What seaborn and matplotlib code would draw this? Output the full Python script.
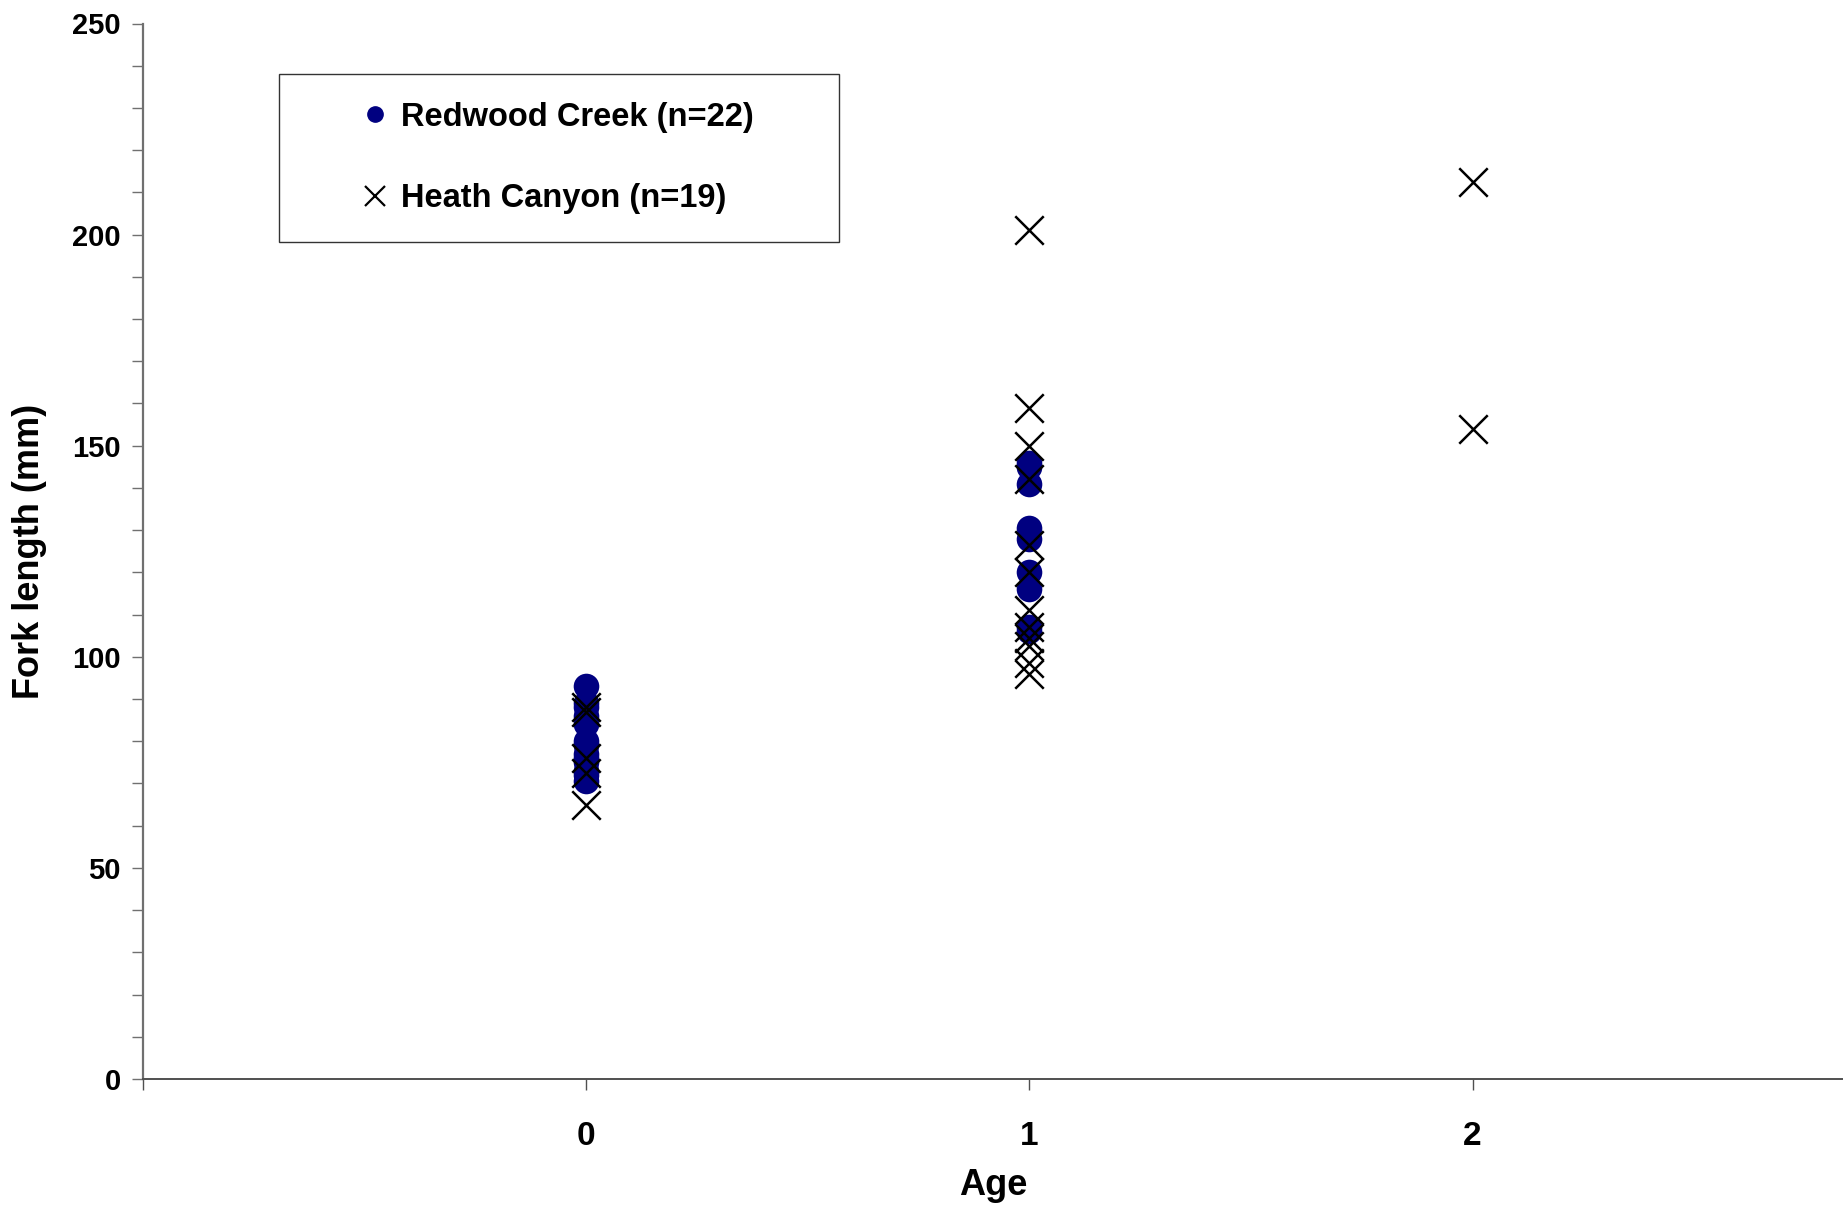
import matplotlib
matplotlib.use("Agg")
import matplotlib.pyplot as plt
from matplotlib.lines import Line2D
from matplotlib.patches import Rectangle
from matplotlib.ticker import MultipleLocator
import seaborn as sns
import pandas as pd

# Fork length (mm) by age class for each stream
redwood_age = [0] * 13 + [1] * 9
redwood_fl = [93, 89, 88, 86, 84, 80, 79, 77, 76, 75, 73, 72, 70.5,
              146, 145, 141, 130.5, 128, 120, 116, 107, 106]

heath_age = [0] * 5 + [1] * 12 + [2] * 2
heath_fl = [88, 87, 76, 72.5, 65,
            201, 159, 150, 142, 126.5, 120, 111, 107, 104.5, 102.5, 98.5, 96,
            212.5, 154]

site_labels = ["Redwood Creek (n=22)", "Heath Canyon (n=19)"]
age_ticks = [-1, 0, 1, 2]
age_tick_labels = ["", "0", "1", "2"]

sns.set_style("white")
plt.rcParams["font.family"] = ["Liberation Sans", "DejaVu Sans"]
plt.rcParams["text.color"] = "black"
plt.rcParams["axes.labelcolor"] = "black"
plt.rcParams["xtick.labelcolor"] = "black"
plt.rcParams["ytick.labelcolor"] = "black"

redwood = pd.DataFrame({"age": redwood_age, "fl": redwood_fl})
heath = pd.DataFrame({"age": heath_age, "fl": heath_fl})

fig = plt.figure(figsize=(18.43, 12.08), dpi=100)
ax = fig.add_axes([143 / 1843, 1 - 1079 / 1208, 1 - 143 / 1843, (1079 - 23.5) / 1208])

navy = "#000080"
sns.scatterplot(data=redwood, x="age", y="fl", ax=ax, marker="o", s=340,
                color=navy, edgecolor=navy, linewidth=0, legend=False, zorder=3)
sns.scatterplot(data=heath, x="age", y="fl", ax=ax, marker="x", s=420,
                color="black", linewidth=1.8, legend=False, zorder=4)

ax.set_xlim(-1, 2.836)
ax.set_ylim(0, 250)
ax.set_xticks(age_ticks)
ax.set_xticklabels(age_tick_labels)
ax.yaxis.set_major_locator(MultipleLocator(50))
ax.yaxis.set_minor_locator(MultipleLocator(10))

for side in ("top", "right"):
    ax.spines[side].set_visible(False)
ax.spines["left"].set_color("#707070")
ax.spines["left"].set_linewidth(1.6)
ax.spines["bottom"].set_color("#505050")
ax.spines["bottom"].set_linewidth(1.4)

ax.tick_params(axis="y", which="both", direction="out", length=8, width=1.0,
               color="#707070", left=True, pad=8)
ax.tick_params(axis="x", which="major", direction="out", length=8, width=1.0,
               color="#505050", bottom=True, pad=22)

for lab in ax.get_yticklabels():
    lab.set_fontsize(21)
    lab.set_fontweight("bold")
for lab in ax.get_xticklabels():
    lab.set_fontsize(24)
    lab.set_fontweight("bold")

ax.set_xlabel("Age", fontsize=26, fontweight="bold", labelpad=12)
ax.set_ylabel("Fork length (mm)", fontsize=26, fontweight="bold", labelpad=18)

# Legend box and entries
ax.add_patch(Rectangle((278.6 / 1843, 1 - 242 / 1208), (839 - 278.6) / 1843,
                       (242 - 74) / 1208, transform=fig.transFigure,
                       facecolor="white", edgecolor="#333333", linewidth=1.0,
                       zorder=5, clip_on=False))
handles = [
    Line2D([], [], linestyle="none", marker="o", markersize=11,
           markerfacecolor=navy, markeredgecolor=navy),
    Line2D([], [], linestyle="none", marker="x", markersize=14,
           markeredgewidth=1.6, color="black"),
]
leg = ax.legend(handles, site_labels, loc="center left",
                bbox_to_anchor=(362 / 1843, 1 - 158 / 1208),
                bbox_transform=fig.transFigure, frameon=False,
                borderpad=0, borderaxespad=0, handlelength=0.8,
                handletextpad=0.4, labelspacing=1.54,
                prop={"size": 23.5, "weight": "bold"})
leg.set_zorder(6)

fig.savefig("out.png", dpi=100)
